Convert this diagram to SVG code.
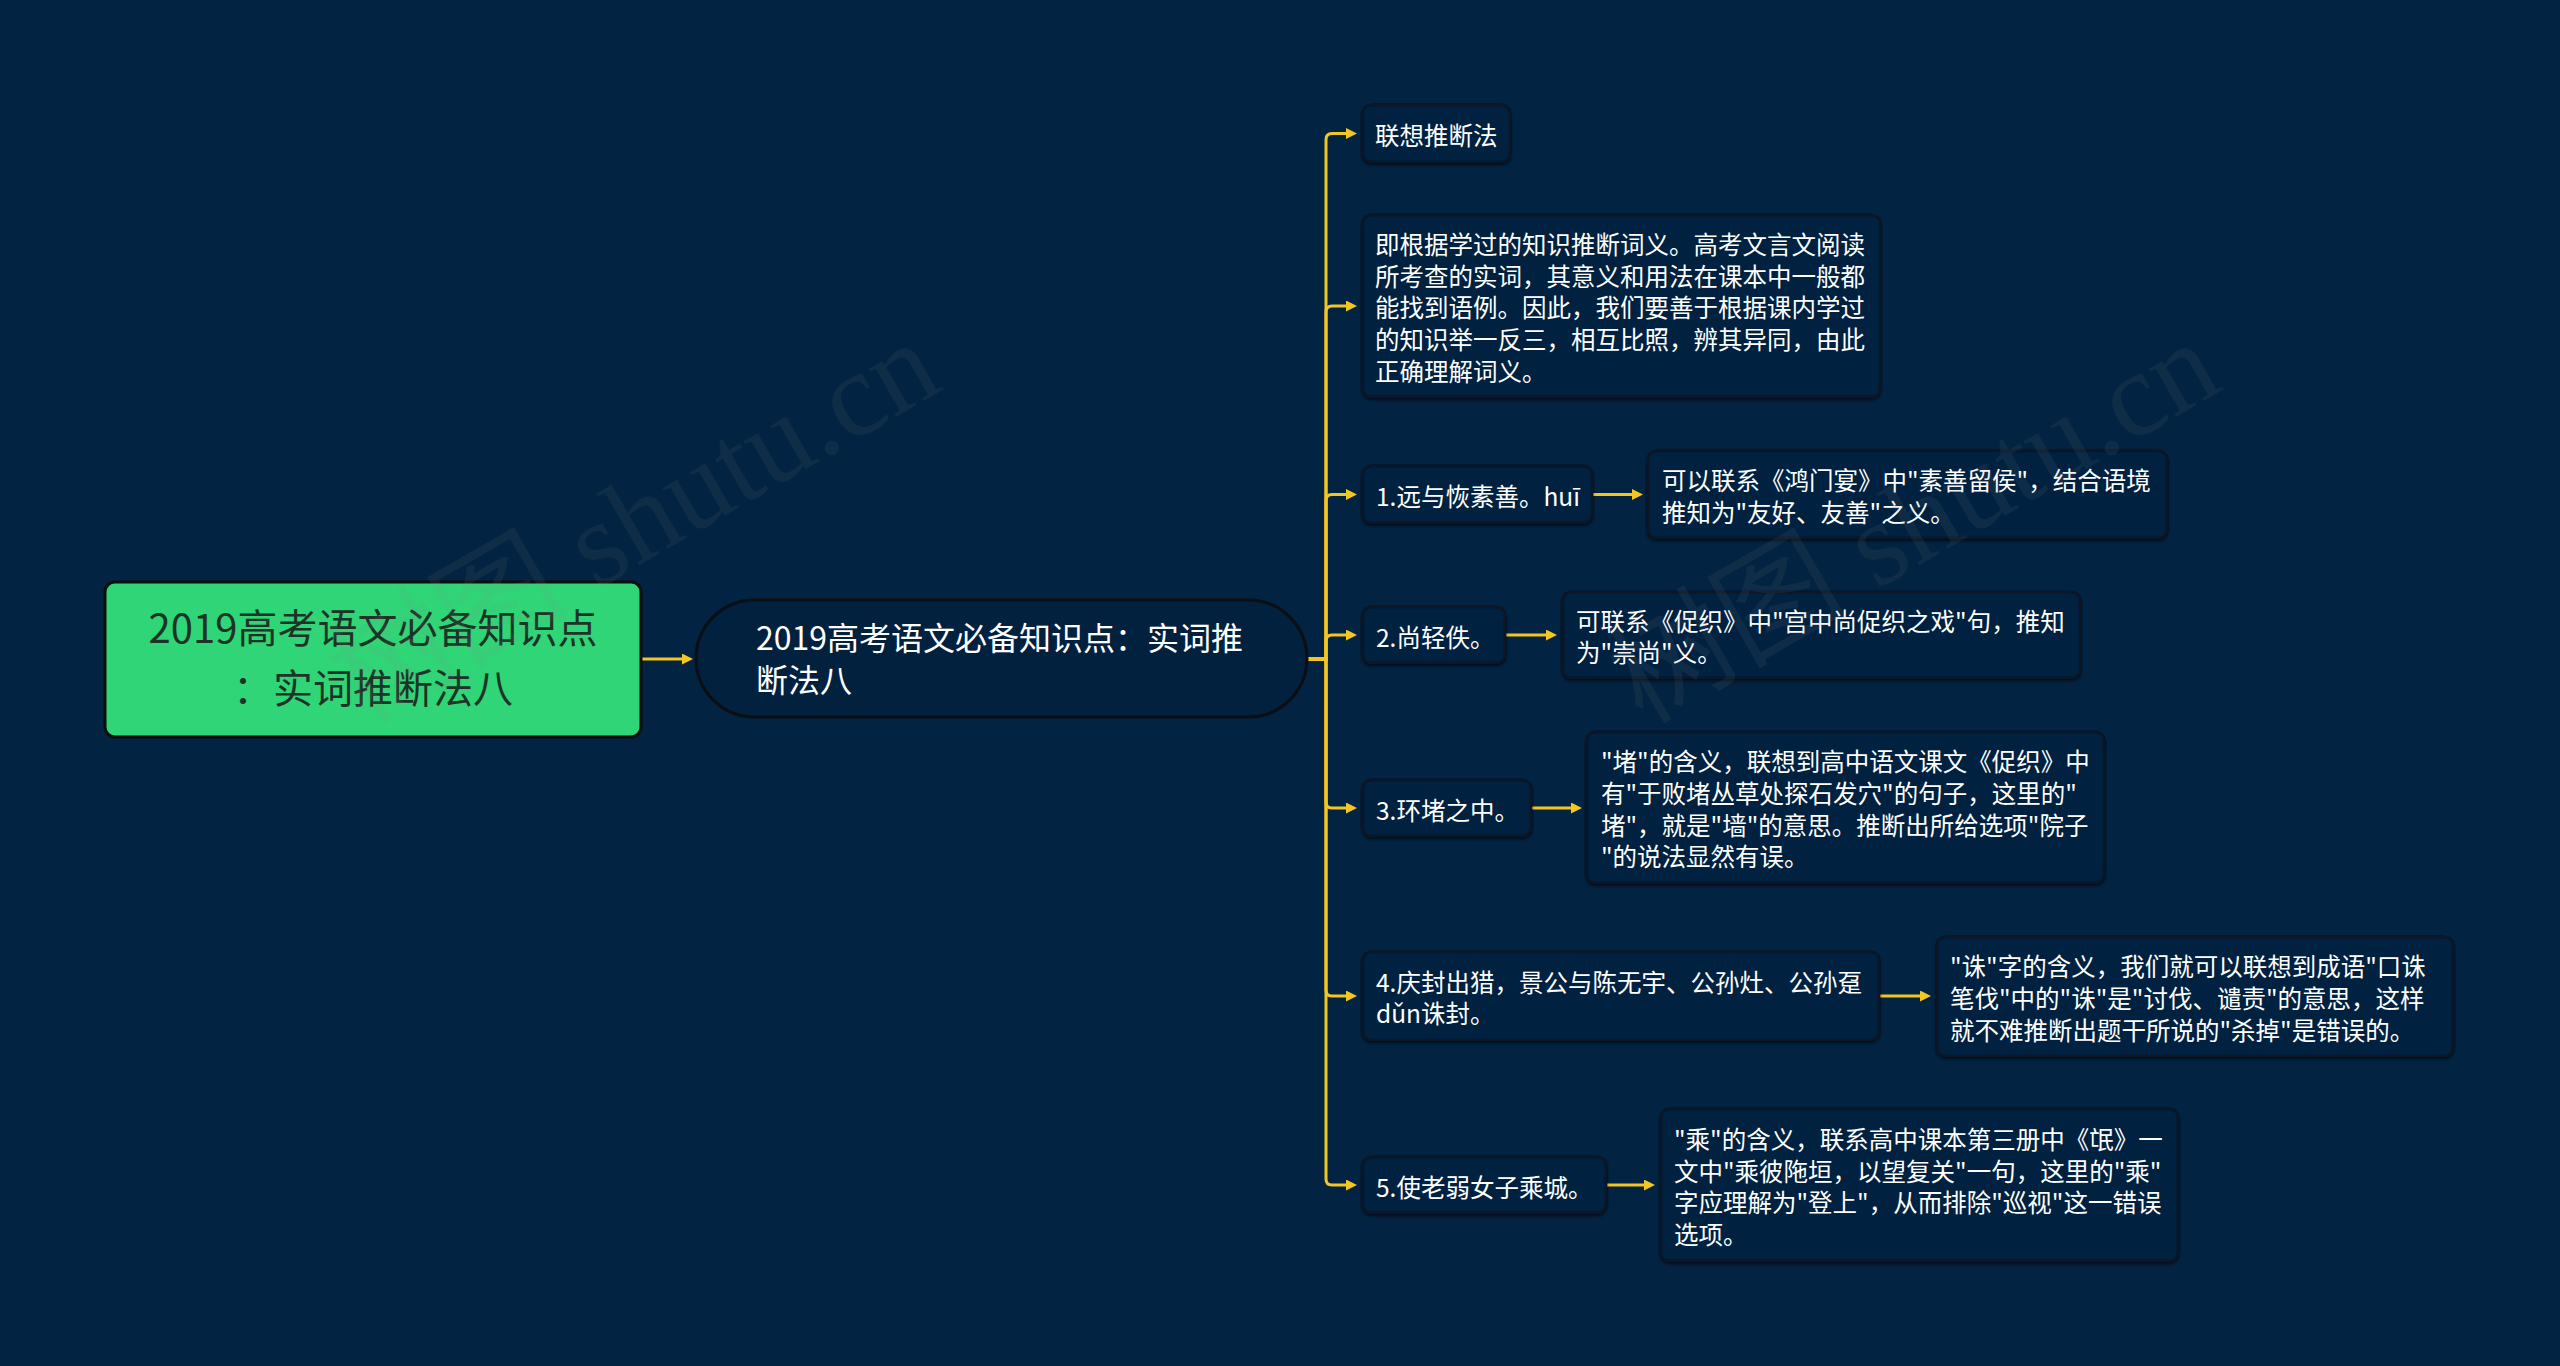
<svg xmlns="http://www.w3.org/2000/svg" width="2560" height="1366" viewBox="0 0 2560 1366">
<defs>
<style>
.bg{fill:#022341}
.box{fill:#03213f;stroke:#0a1322;stroke-width:2.5;filter:url(#sh)}
.t{font-family:"Noto Sans CJK SC","Microsoft YaHei",sans-serif;font-size:24.5px;fill:#ffffff}
.main{font-family:"Noto Sans CJK SC","Microsoft YaHei",sans-serif;font-size:32px;fill:#ffffff}
.root{font-family:"Noto Sans CJK SC","Microsoft YaHei",sans-serif;font-size:40px;fill:#1e3327}
.ln{fill:none;stroke:#f3c623;stroke-width:3;marker-end:url(#ah)}
.wm{font-family:"Liberation Serif","Noto Sans CJK SC",serif;font-size:120px;fill:#8a8a8a;opacity:0.1}
</style>
<marker id="ah" markerUnits="userSpaceOnUse" viewBox="0 0 10 10" markerWidth="11" markerHeight="11" refX="0" refY="5" orient="auto">
<path d="M0,0 L10,5 L0,10 z" fill="#f3c623"/>
</marker>
<filter id="sh" x="-5%" y="-10%" width="110%" height="130%">
<feDropShadow dx="0" dy="2" stdDeviation="1.5" flood-color="#000000" flood-opacity="0.55"/>
</filter>
</defs>
<rect class="bg" x="0" y="0" width="2560" height="1366"/>

<g id="connectors">
<path class="ln" d="M641,659 H682"/>
<path class="ln" d="M1307,659 H1326 V139.5 Q1326,133.5 1332,133.5 H1346"/>
<path class="ln" d="M1307,659 H1326 V312 Q1326,306 1332,306 H1346"/>
<path class="ln" d="M1307,659 H1326 V500.5 Q1326,494.5 1332,494.5 H1346"/>
<path class="ln" d="M1307,659 H1326 V641 Q1326,635 1332,635 H1346"/>
<path class="ln" d="M1307,659 H1326 V802 Q1326,808 1332,808 H1346"/>
<path class="ln" d="M1307,659 H1326 V990 Q1326,996 1332,996 H1346"/>
<path class="ln" d="M1307,659 H1326 V1179 Q1326,1185 1332,1185 H1346"/>
<path class="ln" d="M1592,494.5 H1632"/>
<path class="ln" d="M1505,635 H1546"/>
<path class="ln" d="M1531,808 H1571"/>
<path class="ln" d="M1879,996 H1920"/>
<path class="ln" d="M1606,1185 H1644"/>
</g>

<g id="root">
<rect x="105" y="582" width="536" height="155" rx="10" fill="#2fd576" stroke="#0d0f0d" stroke-width="3"/>
<text class="root" text-anchor="middle"><tspan x="373" y="643">2019高考语文必备知识点</tspan><tspan x="373" y="703">：实词推断法八</tspan></text>
</g>

<g id="main">
<rect x="696" y="600" width="611" height="117" rx="58.5" fill="#02213f" stroke="#0b0e12" stroke-width="3"/>
<text class="main"><tspan x="756" y="650">2019高考语文必备知识点：实词推</tspan><tspan x="756" y="692">断法八</tspan></text>
</g>

<g id="n1">
<rect class="box" x="1363" y="105" width="147" height="57" rx="8"/>
<text class="t" x="1375" y="145">联想推断法</text>
</g>

<g id="n2">
<rect class="box" x="1363" y="215" width="517" height="182" rx="8"/>
<text class="t"><tspan x="1375" y="254">即根据学过的知识推断词义。高考文言文阅读</tspan><tspan x="1375" y="285.7">所考查的实词，其意义和用法在课本中一般都</tspan><tspan x="1375" y="317.4">能找到语例。因此，我们要善于根据课内学过</tspan><tspan x="1375" y="349.1">的知识举一反三，相互比照，辨其异同，由此</tspan><tspan x="1375" y="380.8">正确理解词义。</tspan></text>
</g>

<g id="n3">
<rect class="box" x="1363" y="466" width="229" height="57" rx="8"/>
<text class="t" x="1376" y="506">1.远与恢素善。huī</text>
</g>

<g id="n3c">
<rect class="box" x="1648" y="451" width="519" height="87" rx="8"/>
<text class="t"><tspan x="1662" y="490">可以联系《鸿门宴》中"素善留侯"，结合语境</tspan><tspan x="1662" y="521.7">推知为"友好、友善"之义。</tspan></text>
</g>

<g id="n4">
<rect class="box" x="1363" y="607" width="142" height="56" rx="8"/>
<text class="t" x="1376" y="646.5">2.尚轻佚。</text>
</g>

<g id="n4c">
<rect class="box" x="1563" y="592" width="517" height="86" rx="8"/>
<text class="t"><tspan x="1576" y="630.5">可联系《促织》中"宫中尚促织之戏"句，推知</tspan><tspan x="1576" y="662.2">为"崇尚"义。</tspan></text>
</g>

<g id="n5">
<rect class="box" x="1363" y="780" width="168" height="56" rx="8"/>
<text class="t" x="1376" y="819.5">3.环堵之中。</text>
</g>

<g id="n5c">
<rect class="box" x="1587" y="732" width="517" height="151" rx="8"/>
<text class="t"><tspan x="1601" y="771.3">"堵"的含义，联想到高中语文课文《促织》中</tspan><tspan x="1601" y="803">有"于败堵丛草处探石发穴"的句子，这里的"</tspan><tspan x="1601" y="834.7">堵"，就是"墙"的意思。推断出所给选项"院子</tspan><tspan x="1601" y="866.4">"的说法显然有误。</tspan></text>
</g>

<g id="n6">
<rect class="box" x="1363" y="952" width="516" height="88" rx="8"/>
<text class="t"><tspan x="1376" y="991.5">4.庆封出猎，景公与陈无宇、公孙灶、公孙趸</tspan><tspan x="1376" y="1023.2">dǔn诛封。</tspan></text>
</g>

<g id="n6c">
<rect class="box" x="1937" y="937" width="516" height="119" rx="8"/>
<text class="t"><tspan x="1950" y="976.1">"诛"字的含义，我们就可以联想到成语"口诛</tspan><tspan x="1950" y="1007.8">笔伐"中的"诛"是"讨伐、谴责"的意思，这样</tspan><tspan x="1950" y="1039.5">就不难推断出题干所说的"杀掉"是错误的。</tspan></text>
</g>

<g id="n7">
<rect class="box" x="1363" y="1157" width="243" height="56" rx="8"/>
<text class="t" x="1376" y="1196.5">5.使老弱女子乘城。</text>
</g>

<g id="n7c">
<rect class="box" x="1661" y="1109" width="517" height="152" rx="8"/>
<text class="t"><tspan x="1674" y="1148.8">"乘"的含义，联系高中课本第三册中《氓》一</tspan><tspan x="1674" y="1180.5">文中"乘彼陁垣，以望复关"一句，这里的"乘"</tspan><tspan x="1674" y="1212.2">字应理解为"登上"，从而排除"巡视"这一错误</tspan><tspan x="1674" y="1243.9">选项。</tspan></text>
</g>

<g id="watermarks">
<text class="wm" text-anchor="middle" transform="translate(634,522) rotate(-30)" y="40">树图 shutu.cn</text>
<text class="wm" text-anchor="middle" transform="translate(1914,522) rotate(-30)" y="40">树图 shutu.cn</text>
</g>
</svg>
